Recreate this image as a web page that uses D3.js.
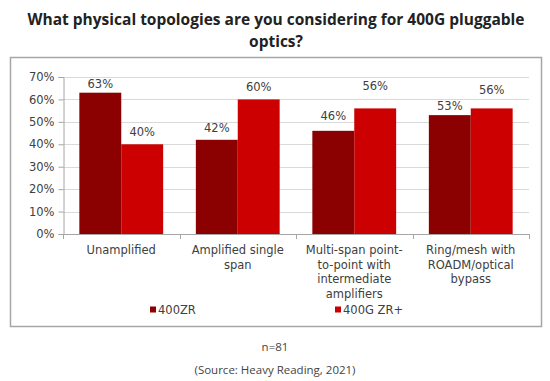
<!DOCTYPE html>
<html><head><meta charset="utf-8">
<script src="https://cdn.jsdelivr.net/npm/d3@7"></script>
<style>body{margin:0;background:#fff;} svg{display:block;}</style>
</head><body>
<svg id="c" width="550" height="381"></svg>
<script>
const categories = [["Unamplified"],["Amplified single","span"],["Multi-span point-","to-point with","intermediate","amplifiers"],["Ring/mesh with","ROADM/optical","bypass"]];
const seriesNames = ["400ZR","400G ZR+"];
const zr = [63,42,46,53];
const zrPlus = [40,60,56,56];
const yTicks = [0,10,20,30,40,50,60,70];
const colors = ["#8b0000","#cc0000"];
// label baseline offset above bar top (px), per series, per category (layout only)
const labelLift = [[5,8,11,5],[8,8,18,14]];

const svg = d3.select("#c");
const vf = "'DejaVu Sans', Verdana, sans-serif";
const tf = "'Open Sans', sans-serif";

svg.append("text").attr("x",276).attr("y",25).attr("text-anchor","middle")
  .attr("font-family",tf).attr("font-weight","bold").attr("font-size",15.5).attr("fill","#222")
  .text("What physical topologies are you considering for 400G pluggable");
svg.append("text").attr("x",276).attr("y",47).attr("text-anchor","middle")
  .attr("font-family",tf).attr("font-weight","bold").attr("font-size",15.5).attr("fill","#222")
  .text("optics?");

svg.append("rect").attr("x",10.5).attr("y",57.5).attr("width",531).attr("height",269)
  .attr("fill","#fff").attr("stroke","#a6a6a6").attr("stroke-width",1.5);

const x0 = d3.scaleBand().domain(d3.range(categories.length)).range([63,529]).padding(0);
const x1 = d3.scaleBand().domain([0,1]).range([0,x0.bandwidth()]).paddingOuter(0.39).paddingInner(0);
const y = d3.scaleLinear().domain([0,70]).range([234,77]);

svg.append("g").selectAll("line").data(yTicks.filter(d=>d>0)).join("line")
  .attr("x1",63).attr("x2",529).attr("y1",d=>Math.round(y(d))+0.5).attr("y2",d=>Math.round(y(d))+0.5)
  .attr("stroke","#d9d9d9").attr("stroke-width",1);

const yAxis = d3.axisLeft(y).tickValues(yTicks).tickFormat(d=>d+"%").tickSize(5).tickPadding(4);
const ya = svg.append("g").attr("transform","translate(63.5,0)").call(yAxis);
ya.select(".domain").attr("stroke","#a6a6a6");
ya.selectAll(".tick line").attr("stroke","#a6a6a6");
ya.selectAll(".tick text").attr("font-family",vf).attr("font-size",11.5).attr("fill","#404040");

const data = [zr, zrPlus];
const groups = svg.append("g").selectAll("g").data(categories.map((c,i)=>i)).join("g")
  .attr("transform",i=>`translate(${x0(i)},0)`);
groups.selectAll("rect").data(i=>data.map((s,k)=>({k,i,v:s[i]}))).join("rect")
  .attr("x",d=>x1(d.k)).attr("width",x1.bandwidth())
  .attr("y",d=>y(d.v)).attr("height",d=>y(0)-y(d.v)).attr("fill",d=>colors[d.k]);
groups.selectAll("text.val").data(i=>data.map((s,k)=>({k,i,v:s[i]}))).join("text")
  .attr("class","val").attr("x",d=>x1(d.k)+x1.bandwidth()/2).attr("y",d=>y(d.v)-labelLift[d.k][d.i])
  .attr("text-anchor","middle").attr("font-family",vf).attr("font-size",11.5).attr("fill","#404040")
  .text(d=>d.v+"%");

// x axis
const xa = svg.append("g");
xa.append("line").attr("x1",63).attr("x2",529).attr("y1",234.5).attr("y2",234.5).attr("stroke","#a6a6a6");
xa.selectAll("line.t").data(d3.range(categories.length+1)).join("line")
  .attr("x1",i=>Math.round(63+i*x0.bandwidth())+0.5).attr("x2",i=>Math.round(63+i*x0.bandwidth())+0.5)
  .attr("y1",234).attr("y2",239).attr("stroke","#a6a6a6");
groups.each(function(i){
  const t = d3.select(this).append("text").attr("text-anchor","middle")
    .attr("font-family",vf).attr("font-size",11.5).attr("fill","#404040");
  categories[i].forEach((line,j)=>{
    t.append("tspan").attr("x",x0.bandwidth()/2).attr("y",254+j*14.7).text(line);
  });
});

// legend
const lx = [150,335];
const lg = svg.append("g").selectAll("g").data(seriesNames).join("g")
  .attr("transform",(d,i)=>`translate(${lx[i]},305)`);
lg.append("rect").attr("width",6).attr("height",6).attr("y",1.5).attr("fill",(d,i)=>colors[i]);
lg.append("text").attr("x",8).attr("y",9).attr("font-family",vf).attr("font-size",11.5).attr("fill","#404040").text(d=>d);

svg.append("text").attr("x",275).attr("y",351).attr("text-anchor","middle")
  .attr("font-family",tf).attr("font-size",11.5).attr("fill","#444").text("n=81");
svg.append("text").attr("x",275).attr("y",374).attr("text-anchor","middle")
  .attr("font-family",tf).attr("font-size",11.5).attr("fill","#444").text("(Source: Heavy Reading, 2021)");
</script>
</body></html>
